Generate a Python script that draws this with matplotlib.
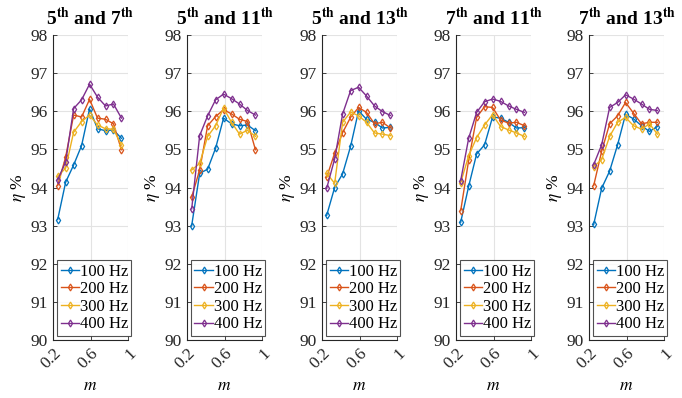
import matplotlib
matplotlib.use("Agg")
import matplotlib.pyplot as plt

plt.rcParams['font.family'] = ['Liberation Serif', 'DejaVu Serif']
plt.rcParams['mathtext.fontset'] = 'stix'

# modulation index
m = [0.25, 0.335, 0.42, 0.505, 0.59, 0.675, 0.76, 0.845, 0.93]

titles = [r'5$^{\mathbf{th}}$ and 7$^{\mathbf{th}}$',
          r'5$^{\mathbf{th}}$ and 11$^{\mathbf{th}}$',
          r'5$^{\mathbf{th}}$ and 13$^{\mathbf{th}}$',
          r'7$^{\mathbf{th}}$ and 11$^{\mathbf{th}}$',
          r'7$^{\mathbf{th}}$ and 13$^{\mathbf{th}}$']

freq_labels = ['100 Hz', '200 Hz', '300 Hz', '400 Hz']

# efficiency (%) per harmonic pair, per switching frequency
eff_5_7 = [
    [93.16, 94.14, 94.59, 95.10, 96.06, 95.54, 95.49, 95.51, 95.29],
    [94.05, 94.80, 95.90, 95.85, 96.31, 95.82, 95.79, 95.67, 94.99],
    [94.29, 94.51, 95.45, 95.73, 95.90, 95.64, 95.54, 95.53, 95.11],
    [94.20, 94.67, 96.07, 96.30, 96.71, 96.37, 96.14, 96.19, 95.82],
]
eff_5_11 = [
    [93.00, 94.37, 94.48, 95.03, 95.82, 95.67, 95.62, 95.64, 95.49],
    [93.75, 94.46, 95.62, 95.86, 96.04, 95.93, 95.79, 95.73, 94.99],
    [94.46, 94.63, 95.34, 95.62, 96.08, 95.71, 95.40, 95.50, 95.34],
    [93.44, 95.36, 95.88, 96.30, 96.45, 96.33, 96.19, 96.02, 95.90],
]
eff_5_13 = [
    [93.27, 94.00, 94.36, 95.08, 96.01, 95.79, 95.71, 95.56, 95.58],
    [94.27, 94.90, 95.44, 95.84, 96.10, 95.97, 95.67, 95.71, 95.56],
    [94.37, 94.11, 95.71, 95.98, 95.88, 95.71, 95.43, 95.40, 95.36],
    [93.98, 94.75, 95.93, 96.54, 96.63, 96.40, 96.14, 95.99, 95.89],
]
eff_7_11 = [
    [93.09, 94.03, 94.88, 95.12, 95.85, 95.82, 95.71, 95.56, 95.57],
    [93.39, 94.71, 95.84, 96.12, 96.10, 95.77, 95.69, 95.71, 95.62],
    [94.13, 94.83, 95.31, 95.64, 95.91, 95.60, 95.51, 95.43, 95.34],
    [94.18, 95.29, 95.97, 96.25, 96.32, 96.26, 96.14, 96.05, 95.97],
]
eff_7_13 = [
    [93.03, 93.98, 94.43, 95.12, 95.92, 95.80, 95.62, 95.47, 95.60],
    [94.05, 94.95, 95.67, 95.88, 96.23, 95.95, 95.67, 95.71, 95.71],
    [94.55, 94.73, 95.34, 95.71, 95.84, 95.62, 95.53, 95.67, 95.40],
    [94.60, 95.12, 96.10, 96.23, 96.43, 96.32, 96.19, 96.05, 96.02],
]
panels = [eff_5_7, eff_5_11, eff_5_13, eff_7_11, eff_7_13]

colors = ['#0072BD', '#D95319', '#EDB120', '#7E2F8E']

fig = plt.figure(figsize=(6.82, 3.98), dpi=100)
W, H = 682, 398
lefts = [53, 187, 322, 456, 589]
ax_w, top, bottom = 75, 35, 340

for k, (data, title) in enumerate(zip(panels, titles)):
    ax = fig.add_axes([lefts[k] / W, 1 - bottom / H, ax_w / W, (bottom - top) / H])
    for series, c, lab in zip(data, colors, freq_labels):
        ax.plot(m, series, color=c, lw=1.0, marker='d', ms=3.5,
                mfc='none', mew=0.9, label=lab)
    ax.set_xlim(0.2, 1.0)
    ax.set_ylim(90, 98)
    ax.set_xticks([0.2, 0.6, 1.0])
    ax.set_xticklabels(['0.2', '0.6', '1'], rotation=45, ha='right',
                       rotation_mode='anchor')
    ax.set_yticks(range(90, 99))
    ax.grid(True, color='#e3e3e3', lw=0.8)
    ax.set_axisbelow(True)
    for s in ['top', 'right']:
        ax.spines[s].set_visible(False)
    for s in ['left', 'bottom']:
        ax.spines[s].set_color('#262626')
        ax.spines[s].set_linewidth(0.8)
    ax.tick_params(direction='in', length=3, labelsize=12.5, colors='#262626',
                   width=0.6)
    ax.tick_params(axis='x', pad=4)
    ax.set_title(title, fontsize=14, fontweight='bold', pad=7)
    ax.set_xlabel(r'$m$', fontsize=12.5, labelpad=4)
    ax.set_ylabel(r'$\eta$ %', fontsize=12.5, labelpad=2)
    leg = ax.legend(loc='lower left', fontsize=12, frameon=True, fancybox=False,
                    borderpad=0.2, labelspacing=0.1, handlelength=1.1,
                    handletextpad=0.05, borderaxespad=0.25)
    leg.get_frame().set_edgecolor('#262626')
    leg.get_frame().set_linewidth(0.8)

fig.savefig('out.png', dpi=100)
